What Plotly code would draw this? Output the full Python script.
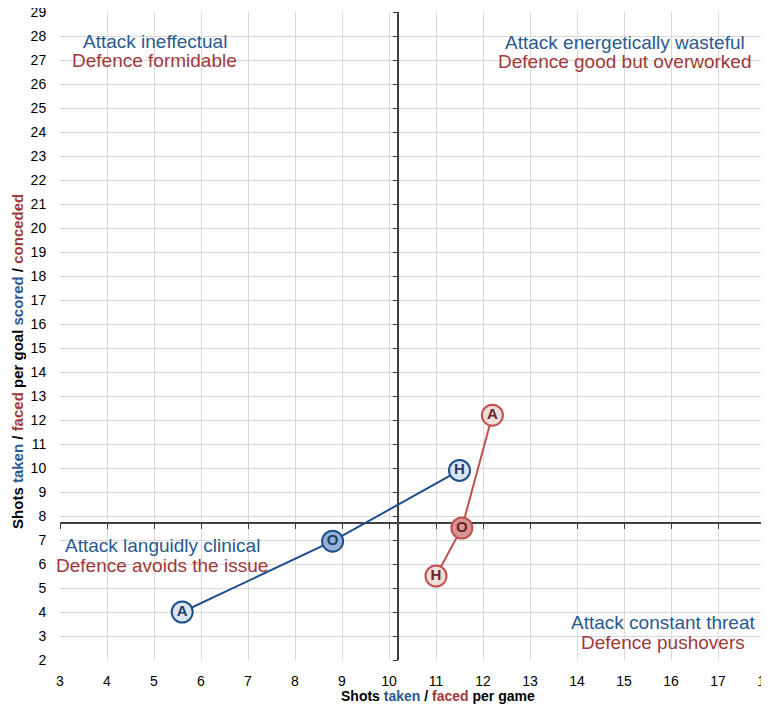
import plotly.graph_objects as go

# ---- data ----
labels = ["A", "O", "H"]
attack_x = [5.6, 8.8, 11.5]      # shots taken per game
attack_y = [4.0, 6.95, 9.9]      # shots taken per goal scored
defence_x = [12.2, 11.55, 11.0]  # shots faced per game
defence_y = [12.2, 7.5, 5.5]     # shots faced per goal conceded
cross_x = 10.2
cross_y = 7.7
x_range = [3, 18]
y_range = [2, 29]
x_ticks = list(range(3, 19))
y_ticks = list(range(2, 30))

# quadrant captions: (attack text, defence text, x, y of attack line, y of defence line)
quad_text = [
    ("Attack ineffectual", "Defence formidable", 5.02, 27.79, 26.96),
    ("Attack energetically wasteful", "Defence good but overworked", 15.02, 27.75, 26.92),
    ("Attack languidly clinical", "Defence avoids the issue", 5.18, 6.79, 5.92),
    ("Attack constant threat", "Defence pushovers", 15.84, 3.58, 2.75),
]

BLUE = "#1f4e8c"
BLUE_TXT = "#2a5a8f"
RED = "#c0504d"
RED_TXT = "#a0393a"
FONT = "Liberation Sans, Arial, sans-serif"

fig = go.Figure()

# invisible trace to keep the main (label/grid) subplot alive
fig.add_trace(go.Scatter(x=[cross_x], y=[cross_y], mode="markers",
                         marker=dict(opacity=0), hoverinfo="skip",
                         showlegend=False))

fig.add_trace(go.Scatter(
    x=attack_x, y=attack_y, mode="lines+markers+text", text=labels,
    textposition="middle center", xaxis="x2", yaxis="y2",
    line=dict(color=BLUE, width=2),
    marker=dict(size=21, color=["#dbe5f1", "#95b3d7", "#dbe5f1"],
                line=dict(color=BLUE, width=2)),
    textfont=dict(family=FONT, size=15, color="#1f3d6b", weight="bold"),
    showlegend=False, name="Attack"))

fig.add_trace(go.Scatter(
    x=defence_x, y=defence_y, mode="lines+markers+text", text=labels,
    textposition="middle center", xaxis="x2", yaxis="y2",
    line=dict(color=RED, width=2),
    marker=dict(size=21, color=["#f2dcdb", "#d99694", "#f2dcdb"],
                line=dict(color=RED, width=2)),
    textfont=dict(family=FONT, size=15, color="#632523", weight="bold"),
    showlegend=False, name="Defence"))

for a, d, qx, ya, yd in quad_text:
    fig.add_annotation(x=qx, y=ya, xref="x", yref="y", showarrow=False,
                       xanchor="center", yanchor="middle", text=a,
                       font=dict(family=FONT, size=19, color=BLUE_TXT))
    fig.add_annotation(x=qx, y=yd, xref="x", yref="y", showarrow=False,
                       xanchor="center", yanchor="middle", text=d,
                       font=dict(family=FONT, size=19, color=RED_TXT))

# axis titles as annotations (placed like the reference)
fig.add_annotation(
    x=0.536, y=0, xref="paper", yref="paper", yshift=-36, showarrow=False,
    xanchor="center", yanchor="middle",
    text="<b>Shots <span style='color:#2a5a8f'>taken</span> / "
         "<span style='color:#a0393a'>faced</span> per game</b>",
    font=dict(family=FONT, size=14, color="black"))
fig.add_annotation(
    x=0, y=0.46, xref="paper", yref="paper", xshift=-42, showarrow=False,
    xanchor="center", yanchor="middle", textangle=-90,
    text="<b>Shots <span style='color:#2a5a8f'>taken</span> / "
         "<span style='color:#a0393a'>faced</span> per goal "
         "<span style='color:#2a5a8f'>scored</span> / "
         "<span style='color:#a0393a'>conceded</span></b>",
    font=dict(family=FONT, size=15, color="black"))

fig.update_layout(
    width=761, height=697,
    margin=dict(l=52, r=4, t=4, b=45, autoexpand=False),
    paper_bgcolor="white", plot_bgcolor="white",
    font=dict(family=FONT, size=14, color="black"),
    xaxis=dict(range=x_range, tickvals=x_ticks, showgrid=True,
               gridcolor="#d9d9d9", gridwidth=1, zeroline=False,
               showline=False, ticks="outside", ticklen=8,
               tickcolor="rgba(0,0,0,0)", automargin=False,
               ticklabeloverflow="allow",
               tickfont=dict(size=14)),
    yaxis=dict(range=y_range, tickvals=y_ticks, showgrid=True,
               gridcolor="#d9d9d9", gridwidth=1, zeroline=False,
               showline=False, ticks="outside", ticklen=10,
               tickcolor="rgba(0,0,0,0)", automargin=False,
               ticklabeloverflow="allow",
               tickfont=dict(size=14)),
    xaxis2=dict(range=x_range, tickvals=x_ticks, overlaying="x", anchor="free",
                position=(cross_y - y_range[0]) / (y_range[1] - y_range[0]),
                showgrid=False, zeroline=False, showticklabels=False,
                showline=True, linecolor="#404040", linewidth=1.5,
                ticks="outside", ticklen=5, tickcolor="#404040",
                layer="below traces", automargin=False),
    yaxis2=dict(range=y_range, tickvals=y_ticks, overlaying="y", anchor="free",
                position=(cross_x - x_range[0]) / (x_range[1] - x_range[0]),
                side="left",
                showgrid=False, zeroline=False, showticklabels=False,
                showline=True, linecolor="#404040", linewidth=1.5,
                ticks="outside", ticklen=5, tickcolor="#404040",
                layer="below traces", automargin=False),
)

fig.write_html("out.html")
